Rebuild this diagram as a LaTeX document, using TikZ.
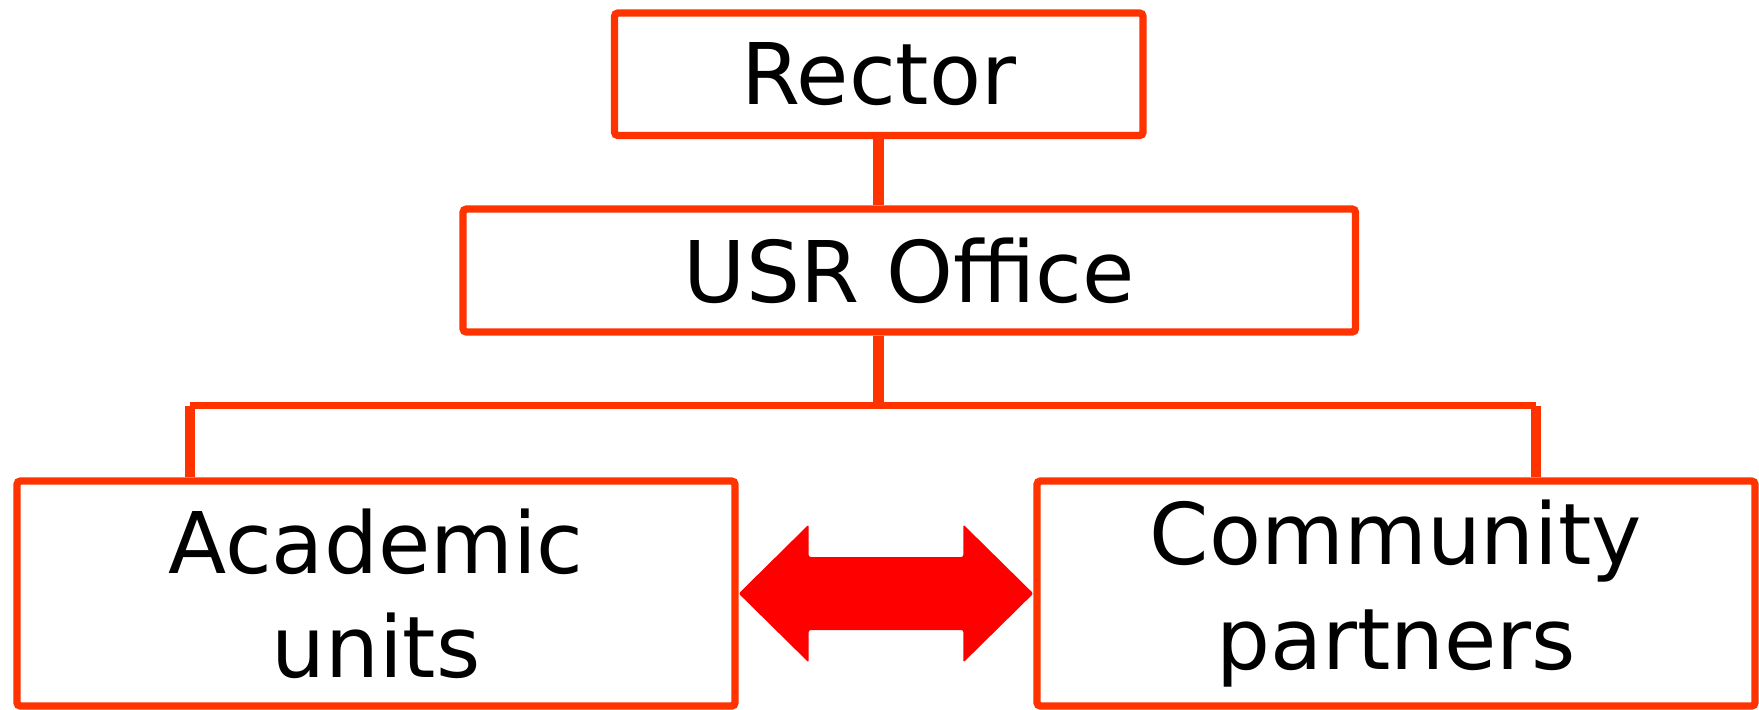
\documentclass[tikz,border=0pt]{standalone}
\usepackage{fontspec}
\setmainfont{DejaVu Sans}
\usetikzlibrary{calc}
\definecolor{boxred}{RGB}{255,51,0}
\tikzset{
    unit/.style={draw=boxred, line width=2.1pt, rounded corners=1pt, fill=white, align=center, inner sep=0pt,
        font=\fontsize{24.2}{29.6}\selectfont},
    link/.style={draw=boxred, line width=3pt}
}
\begin{document}
\begin{tikzpicture}
    \useasboundingbox (0,0) rectangle (17.59,-7.09);
    \node[unit, minimum width=5.285cm, minimum height=1.225cm] (rector) at (8.7875,-0.7425) {Rector};
    \node[unit, minimum width=8.925cm, minimum height=1.23cm] (usr) at (9.0925,-2.705) {USR Office};
    \node[unit, minimum width=7.18cm, minimum height=2.25cm] (acad) at (3.76,-5.935) {Academic\\units};
    \node[unit, minimum width=7.18cm, minimum height=2.25cm] (comm) at (13.96,-5.935) {Community\\partners};
    \coordinate (barleft) at (1.90,-4.055);
    \coordinate (barright) at (15.36,-4.055);
    \coordinate (barmid) at (rector.south |- barleft);
    \draw[link] (rector.south) -- (rector.south |- usr.north);
    \draw[link] (usr.south -| rector.south) -- (barmid);
    \draw[boxred, line width=2.1pt] (barleft) -- (barright);
    \draw[link] (barleft) -- (barleft |- acad.north);
    \draw[link] (barright) -- (barright |- comm.north);
    \fill[red, rounded corners=0.6pt] (acad.east) -- ++(0.70,0.69) -- ++(0,-0.325)
        -- ($(comm.west)+(-0.70,0.365)$) -- ++(0,0.325) -- (comm.west) -- ++(-0.70,-0.69) -- ++(0,0.325)
        -- ($(acad.east)+(0.70,-0.365)$) -- ++(0,-0.325) -- cycle;
\end{tikzpicture}
\end{document}
